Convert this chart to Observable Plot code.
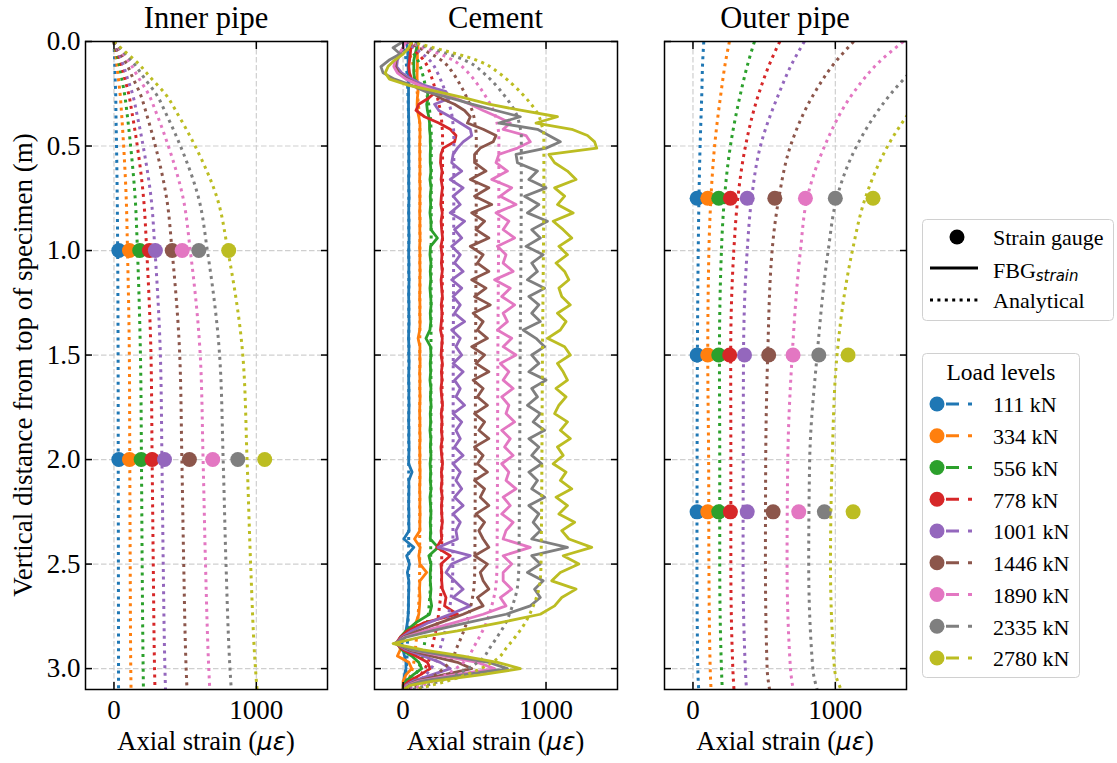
<!DOCTYPE html>
<html>
<head>
<meta charset="utf-8">
<script src="https://cdn.jsdelivr.net/npm/d3@7"></script>
<script src="https://cdn.jsdelivr.net/npm/@observablehq/plot@0.6"></script>
<style>
html,body{margin:0;padding:0;background:#fff;}
#root{position:relative;width:1117px;height:763px;overflow:hidden;background:#fff;}
</style>
</head>
<body>
<div id="root"></div>
<script>
// ---------------- DATA ----------------
const loads = ["111 kN","334 kN","556 kN","778 kN","1001 kN","1446 kN","1890 kN","2335 kN","2780 kN"];
const colors = ["#1f77b4","#ff7f0e","#2ca02c","#d62728","#9467bd","#8c564b","#e377c2","#7f7f7f","#bcbd22"];
const xTicks = [0, 1000];
const yTicks = [0, 0.5, 1, 1.5, 2, 2.5, 3];

// Inner pipe – analytical (dotted)
const innerDepth = [0, 0.05, 0.1, 0.175, 0.25, 0.35, 0.5, 0.75, 1.0, 1.5, 2.0, 2.5, 3.0, 3.1];
const innerAnalytical = [
  [0, 3, 5, 8, 12, 14, 18, 23, 26, 29, 30, 31, 32, 32],
  [0, 10, 19, 31, 43, 54, 68, 86, 95, 108, 111, 114, 118, 120],
  [0, 16, 34, 54, 74, 93, 117, 149, 165, 186, 193, 198, 205, 207],
  [0, 23, 47, 75, 103, 129, 164, 208, 230, 260, 268, 276, 285, 288],
  [0, 29, 59, 94, 130, 162, 205, 261, 288, 326, 337, 346, 358, 362],
  [0, 41, 83, 133, 184, 230, 291, 370, 408, 462, 477, 490, 507, 513],
  [0, 54, 109, 174, 241, 302, 382, 486, 536, 606, 626, 643, 666, 673],
  [0, 66, 134, 213, 295, 369, 467, 595, 656, 742, 767, 787, 815, 824],
  [0, 80, 163, 260, 360, 450, 570, 725, 800, 905, 935, 960, 994, 1005]
];
// Inner pipe – strain gauges
const innerGaugeDepth = [1.0, 2.0];
const innerGauges = [
  [34, 109, 181, 249, 291, 409, 479, 596, 806],
  [34, 109, 191, 268, 355, 530, 694, 870, 1059]
];

// Cement – analytical (dotted)
const cementDepth = [0, 0.025, 0.05, 0.075, 0.1, 0.15, 0.2, 0.25, 0.3, 0.35, 0.4, 0.45, 0.6, 1.5, 2.5, 2.6, 2.7, 2.8, 2.85, 2.9, 2.95, 3.0, 3.05, 3.1];
const cementAnalytical = [
  [2, 8, 13, 18, 22, 27, 31, 34, 36, 38, 39, 40, 40, 40, 39, 39, 37, 34, 32, 29, 27, 22, 14, 3],
  [6, 22, 39, 54, 66, 80, 91, 100, 107, 113, 116, 118, 118, 117, 116, 114, 109, 100, 94, 87, 80, 65, 42, 9],
  [10, 37, 65, 91, 110, 134, 152, 166, 179, 189, 194, 197, 197, 195, 193, 191, 182, 167, 157, 145, 133, 108, 71, 16],
  [14, 52, 91, 127, 155, 188, 213, 233, 251, 265, 272, 276, 276, 273, 270, 268, 255, 235, 219, 203, 186, 152, 99, 22],
  [18, 67, 117, 163, 199, 241, 273, 300, 323, 341, 350, 355, 355, 351, 348, 344, 328, 302, 282, 261, 240, 195, 128, 28],
  [26, 97, 169, 236, 287, 348, 394, 433, 466, 492, 504, 512, 512, 507, 502, 497, 474, 435, 407, 376, 346, 282, 184, 41],
  [34, 127, 221, 308, 375, 456, 516, 566, 610, 643, 660, 670, 670, 663, 657, 650, 620, 570, 533, 492, 452, 368, 241, 54],
  [41, 157, 273, 380, 463, 562, 637, 699, 753, 794, 815, 827, 827, 819, 810, 802, 765, 703, 657, 608, 558, 455, 298, 66],
  [49, 187, 325, 453, 552, 670, 758, 832, 896, 946, 970, 985, 985, 975, 965, 955, 911, 837, 783, 724, 665, 542, 355, 79]
];

// Cement – FBG strain (solid)
const fbgDepth = [
  0, 0.03, 0.06, 0.09, 0.12, 0.15, 0.18, 0.21, 0.24, 0.27, 0.30, 0.33, 0.36, 0.39, 0.42, 0.45, 0.48, 0.51, 0.54,
  0.58, 0.62, 0.66, 0.70, 0.74, 0.78, 0.82, 0.86, 0.90, 0.94, 0.98, 1.02, 1.06, 1.10, 1.14, 1.18, 1.22, 1.26, 1.30, 1.34,
  1.38, 1.42, 1.46, 1.50, 1.54, 1.58, 1.62, 1.66, 1.70, 1.74, 1.78, 1.82, 1.86, 1.90, 1.94, 1.98, 2.02, 2.06, 2.10, 2.14,
  2.18, 2.22, 2.26, 2.30, 2.34, 2.38, 2.42, 2.46, 2.50, 2.54,
  2.58, 2.62, 2.66, 2.70, 2.74, 2.78, 2.82, 2.85, 2.88, 2.91, 2.94, 2.97, 3.00, 3.03, 3.06, 3.08, 3.10
];
const cementFBG = [
  [25, 30, 33, 35, 35, 36, 37, 38, 38, 38, 38, 38, 39, 40, 40, 40, 40, 40, 40,
   40, 41, 39, 40, 42, 40, 39, 41, 40, 42, 40, 39, 41, 40, 42, 40, 39, 41, 40, 42, 40, 38, 41, 40, 42, 40, 39, 41, 40, 42, 40, 39, 41, 40, 42, 40, 39, 63, 40, 41, 40, 39, 41, 40, 42, 5, 75, 25, 45, 30,
   40, 40, 38, 38, 36, 30, 20, 5, -10, 0, 10, 20, 20, 10, 5, 0, 0],
  [100, 105, 100, 100, 100, 98, 98, 100, 105, 100, 98, 100, 110, 118, 118, 118, 117, 116, 117,
   117, 118, 116, 119, 117, 118, 116, 118, 117, 119, 116, 118, 117, 119, 117, 118, 116, 118, 117, 119, 117, 105, 118, 117, 119, 116, 118, 117, 119, 117, 116, 118, 117, 119, 116, 118, 117, 119, 118, 116, 118, 117, 119, 117, 118, 80, 120, 110, 118, 165,
   118, 115, 118, 115, 110, 90, 40, 0, -30, -20, -40, 40, 60, 20, 0, 0, 0],
  [90, 95, 85, 75, 75, 75, 80, 120, 170, 175, 165, 170, 180, 185, 185, 190, 190, 192, 190,
   190, 195, 188, 196, 190, 193, 188, 195, 195, 240, 192, 188, 195, 190, 194, 188, 193, 196, 190, 194, 188, 160, 192, 195, 190, 193, 188, 195, 191, 196, 190, 193, 188, 194, 191, 195, 189, 193, 190, 196, 188, 192, 195, 190, 193, 190, 245, 180, 195, 190,
   190, 195, 190, 200, 185, 90, 20, -20, -40, -10, 60, 110, 130, 70, 20, 5, 0],
  [60, 55, 50, 45, 40, 45, 60, 120, 230, 180, 110, 90, 150, 250, 330, 370, 360, 280, 265,
   262, 272, 266, 275, 268, 264, 274, 266, 270, 276, 265, 272, 268, 274, 266, 270, 275, 267, 272, 268, 262, 274, 270, 266, 275, 268, 272, 265, 270, 276, 267, 272, 268, 274, 265, 270, 276, 268, 272, 266, 274, 268, 270, 275, 266, 270, 235, 330, 265, 270,
   270, 275, 300, 290, 380, 150, 30, -20, -50, 0, 90, 170, 190, 120, 40, 10, 0],
  [10, 0, -20, -40, -45, -10, 60, 150, 300, 330, 220, 250, 330, 400, 470, 480, 420, 380, 350,
   340, 410, 330, 420, 350, 400, 330, 430, 360, 410, 340, 400, 360, 420, 340, 410, 350, 400, 360, 430, 340, 400, 370, 410, 350, 420, 360, 400, 370, 430, 350, 410, 370, 400, 360, 420, 350, 400, 370, 410, 360, 420, 350, 400, 370, 380, 245, 470, 340, 300,
   360, 420, 350, 470, 330, 180, 60, -10, -50, 20, 140, 260, 330, 200, 70, 20, 5],
  [10, 0, -25, -50, -55, -30, 30, 120, 190, 260, 360, 430, 470, 450, 560, 650, 630, 540, 500,
   500, 580, 470, 600, 500, 620, 480, 570, 510, 600, 470, 560, 520, 600, 480, 580, 500, 610, 490, 560, 520, 590, 480, 570, 510, 600, 490, 560, 520, 590, 500, 570, 530, 600, 500, 560, 520, 590, 500, 570, 540, 600, 510, 570, 530, 560, 600, 500, 590, 540,
   560, 600, 520, 560, 420, 260, 100, 0, -50, 40, 200, 380, 480, 280, 90, 30, 5],
  [20, 0, -30, -55, -65, -40, 20, 120, 230, 360, 470, 560, 660, 750, 700, 860, 890, 800, 670,
   650, 730, 620, 760, 680, 790, 650, 740, 700, 780, 660, 720, 700, 770, 640, 750, 690, 780, 700, 730, 660, 760, 700, 790, 680, 740, 700, 770, 690, 740, 720, 780, 690, 750, 710, 770, 690, 740, 720, 790, 700, 750, 690, 770, 720, 700, 890, 700, 760, 700,
   700, 760, 680, 720, 560, 360, 150, 10, -50, 60, 280, 520, 640, 360, 110, 30, 5],
  [0, -70, -20, -100, -155, -140, -60, 60, 160, 330, 480, 650, 820, 670, 940, 1020, 1100, 1000, 790,
   800, 940, 880, 1000, 850, 950, 870, 1010, 900, 960, 860, 980, 900, 940, 870, 990, 880, 950, 900, 960, 840, 930, 990, 900, 950, 880, 1000, 900, 940, 870, 960, 910, 990, 880, 950, 900, 970, 880, 940, 900, 990, 880, 950, 910, 960, 900, 1150, 900, 960, 870,
   980, 920, 960, 890, 720, 450, 200, 20, -60, 60, 330, 600, 730, 420, 130, 40, 5],
  [60, 40, 0, -60, -105, -125, -95, 40, 240, 430, 600, 830, 1080, 930, 1180, 1290, 1340, 1355, 1020,
   1060, 1150, 1210, 1060, 1130, 1080, 1190, 1050, 1120, 1180, 1090, 1150, 1070, 1130, 1160, 1090, 1110, 1170, 1080, 1140, 1100, 1010, 1130, 1170, 1080, 1120, 1150, 1070, 1140, 1090, 1060, 1150, 1100, 1170, 1080, 1120, 1050, 1140, 1100, 1180, 1070, 1150, 1090, 1200, 1110, 1160, 1320, 1120, 1230, 1100,
   1040, 1210, 1110, 1060, 960, 680, 380, 120, -70, 140, 420, 660, 820, 540, 210, 50, 5]
];

// Outer pipe – analytical (dotted)
const outerDepth = [0, 0.1, 0.25, 0.5, 0.75, 1.0, 1.5, 2.0, 2.5, 3.0, 3.1];
const outerAnalytical = [
  [76, 68, 62, 50, 42, 37, 31, 29, 28, 34, 40],
  [256, 228, 196, 152, 126, 112, 104, 110, 112, 121, 127],
  [432, 388, 334, 263, 221, 200, 186, 188, 188, 200, 206],
  [610, 543, 462, 369, 315, 287, 265, 266, 266, 280, 288],
  [783, 700, 603, 474, 412, 381, 355, 353, 352, 368, 376],
  [1129, 998, 850, 685, 603, 556, 525, 511, 509, 521, 538],
  [1478, 1305, 1122, 925, 802, 755, 697, 666, 661, 685, 704],
  [1720, 1590, 1390, 1150, 1010, 950, 872, 820, 813, 842, 872],
  [1860, 1760, 1610, 1368, 1210, 1120, 1012, 978, 966, 994, 1040]
];
// Outer pipe – strain gauges
const outerGaugeDepth = [0.75, 1.5, 2.25];
const outerGauges = [
  [29, 104, 181, 263, 381, 575, 790, 1000, 1265],
  [29, 104, 181, 258, 362, 532, 703, 884, 1090],
  [29, 104, 181, 263, 381, 563, 743, 923, 1125]
];

// ---------------- DRAWING ----------------
const root = document.getElementById("root");
const SERIF = "'Liberation Serif','Times New Roman',Times,serif";
const W = 1117, H = 763;
const frameTop = 41, frameBottom = 689;
const panels = [
  {key: "inner", title: "Inner pipe", left: 85, right: 327, showY: true},
  {key: "cement", title: "Cement", left: 374, right: 617, showY: false},
  {key: "outer", title: "Outer pipe", left: 664, right: 906, showY: false}
];

const rows = (depth, vals) => depth.map((d, i) => ({d, v: vals[i]}));
const dotted = {strokeWidth: 3, strokeDasharray: "3,4.4", strokeLinecap: "butt", curve: "monotone-y", clip: true};
const GR = 7.5;

function dataMarks(key) {
  const m = [];
  loads.forEach((load, i) => {
    const c = colors[i];
    if (key === "inner") {
      m.push(Plot.line(rows(innerDepth, innerAnalytical[i]), {x: "v", y: "d", stroke: c, ...dotted}));
      m.push(Plot.dot(innerGaugeDepth.map((d, j) => ({d, v: innerGauges[j][i]})), {x: "v", y: "d", r: GR, fill: c, stroke: null}));
    } else if (key === "cement") {
      m.push(Plot.line(rows(fbgDepth, cementFBG[i]), {x: "v", y: "d", stroke: c, strokeWidth: 2.8, strokeLinejoin: "round", clip: true}));
      m.push(Plot.line(rows(cementDepth, cementAnalytical[i]), {x: "v", y: "d", stroke: c, ...dotted}));
    } else {
      m.push(Plot.line(rows(outerDepth, outerAnalytical[i]), {x: "v", y: "d", stroke: c, ...dotted}));
      m.push(Plot.dot(outerGaugeDepth.map((d, j) => ({d, v: outerGauges[j][i]})), {x: "v", y: "d", r: GR, fill: c, stroke: null}));
    }
  });
  return m;
}

const gridStyle = {stroke: "#cfcfcf", strokeOpacity: 1, strokeWidth: 1.2, strokeDasharray: "5.5,2.5"};
const blank = () => "";

panels.forEach(p => {
  const ml = p.key === "inner" ? 85 : 40, mr = 20;
  const width = ml + (p.right - p.left) + mr;
  const svg = Plot.plot({
    width, height: H,
    marginLeft: ml, marginRight: mr, marginTop: frameTop, marginBottom: H - frameBottom,
    x: {domain: [-200, 1500], label: null},
    y: {domain: [0, 3.1], reverse: true, label: null},
    style: {fontFamily: SERIF, fontSize: "27px", color: "black", background: "transparent", overflow: "visible"},
    marks: [
      Plot.gridX(xTicks, gridStyle),
      Plot.gridY(yTicks, gridStyle),
      ...dataMarks(p.key),
      Plot.frame({stroke: "black", strokeWidth: 1.5}),
      Plot.axisX(xTicks, {anchor: "bottom", tickSize: -7, tickPadding: 17, strokeWidth: 1.5, fontSize: 27, tickFormat: d => String(d), label: null}),
      Plot.axisX(xTicks, {anchor: "top", tickSize: -7, tickPadding: 0, strokeWidth: 1.5, tickFormat: blank, label: null}),
      Plot.axisY(yTicks, {anchor: "left", tickSize: -7, tickPadding: 12, strokeWidth: 1.5, fontSize: 27, tickFormat: p.showY ? d3.format(".1f") : blank, label: null}),
      Plot.axisY(yTicks, {anchor: "right", tickSize: -7, tickPadding: 0, strokeWidth: 1.5, tickFormat: blank, label: null})
    ]
  });
  svg.style.position = "absolute";
  svg.style.left = (p.left - ml) + "px";
  svg.style.top = "0px";
  svg.style.maxWidth = "none";
  root.appendChild(svg);
});

// Overlay: titles, axis labels, legends
const centers = panels.map(p => (p.left + p.right) / 2);
let s = `<svg id="overlay" xmlns="http://www.w3.org/2000/svg" width="${W}" height="${H}" style="position:absolute;left:0;top:0;pointer-events:none" font-family="${SERIF.replace(/'/g, "&quot;")}" fill="black">`;
panels.forEach((p, i) => {
  s += `<text x="${centers[i]}" y="28" font-size="30.5" text-anchor="middle">${p.title}</text>`;
  s += `<text x="${centers[i]}" y="750" font-size="26.5" text-anchor="middle">Axial strain (<tspan font-family="DejaVu Sans" font-style="italic" font-size="24.5">με</tspan>)</text>`;
});
s += `<text transform="translate(31.5,365) rotate(-90)" font-size="27" text-anchor="middle">Vertical distance from top of specimen (m)</text>`;

// legend 1: marker/line types
s += `<rect x="922.5" y="219.5" width="191" height="101" rx="4" fill="white" stroke="#d0d0d0" stroke-width="1"/>`;
s += `<circle cx="957" cy="237" r="${GR}" fill="black"/>`;
s += `<line x1="930" x2="978" y1="268" y2="268" stroke="black" stroke-width="3"/>`;
s += `<line x1="930" x2="978" y1="300" y2="300" stroke="black" stroke-width="3" stroke-dasharray="3,4.4"/>`;
s += `<text x="993" y="245" font-size="22">Strain gauge</text>`;
s += `<text x="993" y="277.5" font-size="22">FBG<tspan font-family="DejaVu Sans" font-style="italic" font-size="15" dy="3">strain</tspan></text>`;
s += `<text x="993" y="308" font-size="22">Analytical</text>`;

// legend 2: load levels
s += `<rect x="922.5" y="353.5" width="157" height="324" rx="4" fill="white" stroke="#d0d0d0" stroke-width="1"/>`;
s += `<text x="1001" y="380" font-size="23.5" text-anchor="middle">Load levels</text>`;
loads.forEach((l, i) => {
  const cy = 404 + 31.75 * i;
  s += `<circle cx="937" cy="${cy}" r="${GR}" fill="${colors[i]}"/>`;
  s += `<line x1="946" x2="972" y1="${cy}" y2="${cy}" stroke="${colors[i]}" stroke-width="3" stroke-dasharray="13,9"/>`;
  s += `<text x="993" y="${cy + 8.3}" font-size="22">${l}</text>`;
});
s += `</svg>`;
root.insertAdjacentHTML("beforeend", s);
</script>
</body>
</html>
